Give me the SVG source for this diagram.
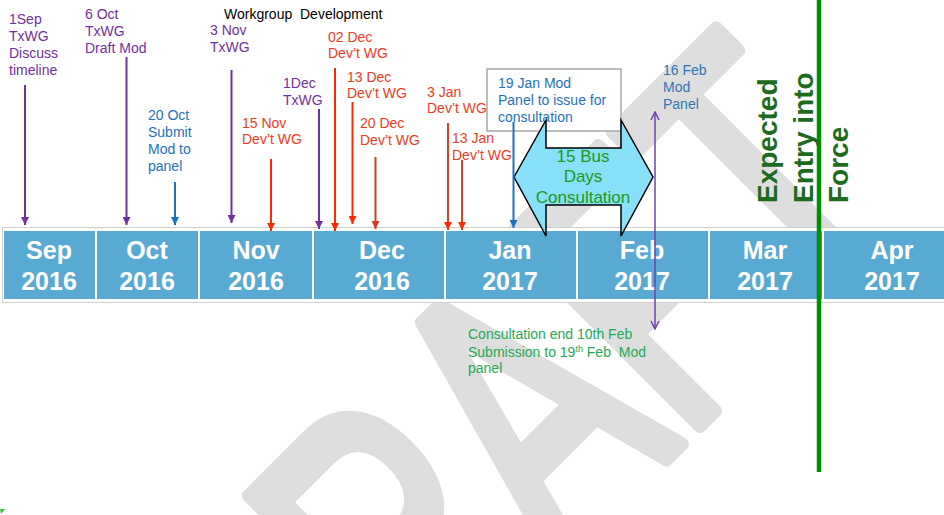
<svg xmlns="http://www.w3.org/2000/svg" width="944" height="515" viewBox="0 0 944 515">
<defs>
<style>
text{font-family:"Liberation Sans",Arial,sans-serif}
.lbl{font-size:14px}
.pur{fill:#7030a0}
.red{fill:#f23a1d}
.blu{fill:#1f70c1}
.mon{font-size:25px;font-weight:bold;fill:#ffffff;text-anchor:middle}
.cell{fill:#59aad3}
.ap{stroke-width:2;fill:none}
.exp{font-size:28px;font-weight:bold;fill:#1d6b1d}
</style>
<marker id="hp" viewBox="0 0 8 8" refX="8" refY="4" markerWidth="8" markerHeight="8" markerUnits="userSpaceOnUse" orient="auto"><path d="M0,0L8,4L0,8z" fill="#7030a0"/></marker>
<marker id="hr" viewBox="0 0 8 8" refX="8" refY="4" markerWidth="8" markerHeight="8" markerUnits="userSpaceOnUse" orient="auto"><path d="M0,0L8,4L0,8z" fill="#ff2a00"/></marker>
<marker id="hd" viewBox="0 0 8 8" refX="8" refY="4" markerWidth="8" markerHeight="8" markerUnits="userSpaceOnUse" orient="auto"><path d="M0,0L8,4L0,8z" fill="#d23c25"/></marker>
<marker id="hb" viewBox="0 0 8 8" refX="8" refY="4" markerWidth="8" markerHeight="8" markerUnits="userSpaceOnUse" orient="auto"><path d="M0,0L8,4L0,8z" fill="#1f70c1"/></marker>
<marker id="ho" viewBox="0 0 10 10" refX="9" refY="5" markerWidth="10" markerHeight="10" markerUnits="userSpaceOnUse" orient="auto-start-reverse"><path d="M1,1L9,5L1,9" fill="none" stroke="#6f42b0" stroke-width="1.5"/></marker>
</defs>
<rect width="944" height="515" fill="#ffffff"/>

<g id="watermark">
<text x="0" y="0" transform="translate(287,838) rotate(-45) scale(0.68,1)" font-size="390" fill="#dedede" stroke="#dedede" stroke-width="15" stroke-linejoin="round">DRAFT</text>
</g>

<g id="timeline">
<rect x="2.5" y="227.5" width="960" height="75" fill="#ffffff" stroke="#d0d0d0"/>
<rect class="cell" x="4" y="231" width="91" height="68"/>
<rect class="cell" x="97" y="231" width="101" height="68"/>
<rect class="cell" x="200" y="231" width="112" height="68"/>
<rect class="cell" x="314" y="231" width="130" height="68"/>
<rect class="cell" x="446" y="231" width="130" height="68"/>
<rect class="cell" x="578" y="231" width="130" height="68"/>
<rect class="cell" x="710" y="231" width="112" height="68"/>
<rect class="cell" x="824" y="231" width="130" height="68"/>
<text class="mon" x="49" y="259">Sep</text><text class="mon" x="49" y="290">2016</text>
<text class="mon" x="147" y="259">Oct</text><text class="mon" x="147" y="290">2016</text>
<text class="mon" x="256" y="259">Nov</text><text class="mon" x="256" y="290">2016</text>
<text class="mon" x="382" y="259">Dec</text><text class="mon" x="382" y="290">2016</text>
<text class="mon" x="510" y="259">Jan</text><text class="mon" x="510" y="290">2017</text>
<text class="mon" x="642" y="259">Feb</text><text class="mon" x="642" y="290">2017</text>
<text class="mon" x="765" y="259">Mar</text><text class="mon" x="765" y="290">2017</text>
<text class="mon" x="892" y="259">Apr</text><text class="mon" x="892" y="290">2017</text>
</g>

<g id="box19jan">
<rect x="487" y="69" width="134" height="62" fill="#ffffff" stroke="#a8a8a8" stroke-width="1.5"/>
<text class="lbl blu" x="498" y="88">19 Jan Mod</text>
<text class="lbl blu" x="498" y="105">Panel to issue for</text>
<text class="lbl blu" x="498" y="122">consultation</text>
</g>

<g id="consultation">
<path d="M514,177L546,120L546,148L621,148L621,120L653,177L621,236L621,205L546,205L546,236Z" fill="#88e1f9" stroke="#000000" stroke-width="1.5" stroke-linejoin="miter"/>
<text x="583" y="162" font-size="17" fill="#1a9a1a" text-anchor="middle">15 Bus</text>
<text x="583" y="182" font-size="17" fill="#1a9a1a" text-anchor="middle">Days</text>
<text x="583" y="203" font-size="17" fill="#1a9a1a" text-anchor="middle">Consultation</text>
</g>

<g id="connectors">
<line class="ap" x1="25" y1="85" x2="25" y2="225" stroke="#7030a0" marker-end="url(#hp)"/>
<line class="ap" x1="126.5" y1="57" x2="126.5" y2="225" stroke="#7030a0" marker-end="url(#hp)"/>
<line class="ap" x1="175" y1="182" x2="175" y2="225" stroke="#1f70c1" marker-end="url(#hb)"/>
<line class="ap" x1="231.5" y1="70" x2="231.5" y2="223" stroke="#7030a0" marker-end="url(#hp)"/>
<line class="ap" x1="271" y1="159" x2="271" y2="231" stroke="#ff2a00" marker-end="url(#hr)"/>
<line class="ap" x1="319" y1="109" x2="319" y2="229" stroke="#7030a0" marker-end="url(#hp)"/>
<line class="ap" x1="335" y1="68" x2="335" y2="231" stroke="#ff2a00" marker-end="url(#hr)"/>
<line class="ap" x1="352.5" y1="102" x2="352.5" y2="224" stroke="#ff2a00" marker-end="url(#hr)"/>
<line class="ap" x1="375.5" y1="157" x2="375.5" y2="229" stroke="#d23c25" marker-end="url(#hd)"/>
<line class="ap" x1="448" y1="123" x2="448" y2="230" stroke="#e83a1e" marker-end="url(#hr)"/>
<line class="ap" x1="462" y1="160" x2="462" y2="230" stroke="#e83a1e" marker-end="url(#hr)"/>
<line class="ap" x1="513.5" y1="122" x2="513.5" y2="228" stroke="#1f70c1" marker-end="url(#hb)"/>
<line x1="655" y1="112" x2="655" y2="329" stroke="#6f42b0" stroke-width="1.5" marker-start="url(#ho)" marker-end="url(#ho)"/>
</g>

<g id="entry">
<line x1="819" y1="0" x2="819" y2="472" stroke="#009000" stroke-width="4.5"/>
<text class="exp" transform="translate(777,203) rotate(-90)">Expected</text>
<text class="exp" transform="translate(813,203) rotate(-90)">Entry into</text>
<text class="exp" transform="translate(848,203) rotate(-90)">Force</text>
</g>

<g id="labels">
<text class="lbl pur" x="9" y="24">1Sep</text>
<text class="lbl pur" x="9" y="41">TxWG</text>
<text class="lbl pur" x="9" y="58">Discuss</text>
<text class="lbl pur" x="9" y="75">timeline</text>
<text class="lbl pur" x="85" y="19">6 Oct</text>
<text class="lbl pur" x="85" y="36">TxWG</text>
<text class="lbl pur" x="85" y="53">Draft Mod</text>
<text class="lbl blu" x="148" y="120">20 Oct</text>
<text class="lbl blu" x="148" y="137">Submit</text>
<text class="lbl blu" x="148" y="154">Mod to</text>
<text class="lbl blu" x="148" y="171">panel</text>
<text class="lbl" x="224" y="19" fill="#000000" xml:space="preserve">Workgroup  Development</text>
<text class="lbl pur" x="210" y="35">3 Nov</text>
<text class="lbl pur" x="210" y="52">TxWG</text>
<text class="lbl red" x="328" y="42">02 Dec</text>
<text class="lbl red" x="328" y="58">Dev’t WG</text>
<text class="lbl pur" x="283" y="88">1Dec</text>
<text class="lbl pur" x="283" y="105">TxWG</text>
<text class="lbl red" x="242" y="128">15 Nov</text>
<text class="lbl red" x="242" y="144">Dev’t WG</text>
<text class="lbl red" x="347" y="82">13 Dec</text>
<text class="lbl red" x="347" y="98">Dev’t WG</text>
<text class="lbl red" x="360" y="128">20 Dec</text>
<text class="lbl red" x="360" y="145">Dev’t WG</text>
<text class="lbl red" x="427" y="97">3 Jan</text>
<text class="lbl red" x="427" y="113">Dev’t WG</text>
<text class="lbl red" x="452" y="143">13 Jan</text>
<text class="lbl red" x="452" y="160">Dev’t WG</text>
<text class="lbl" x="663" y="75" fill="#2e75b6" font-size="13.5">16 Feb</text>
<text class="lbl" x="663" y="92" fill="#2e75b6" font-size="13.5">Mod</text>
<text class="lbl" x="663" y="109" fill="#2e75b6" font-size="13.5">Panel</text>
<text class="lbl" x="468" y="339" fill="#22aa55">Consultation end 10th Feb</text>
<text class="lbl" x="468" y="357" fill="#22aa55" xml:space="preserve">Submission to 19<tspan font-size="9" dy="-5">th</tspan><tspan dy="5"> Feb  Mod</tspan></text>
<text class="lbl" x="468" y="373" fill="#22aa55">panel</text>
</g>
<path d="M0,509L5,509L1,514Z" fill="#33cc33"/>
</svg>
